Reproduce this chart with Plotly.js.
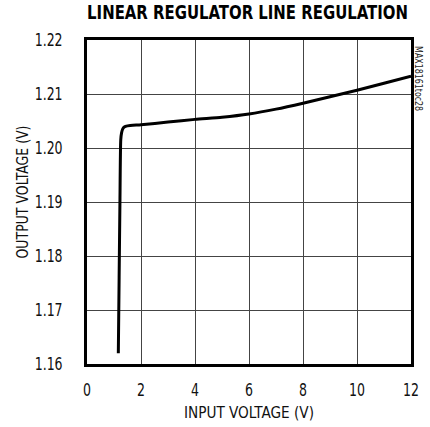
<!DOCTYPE html>
<html>
<head>
<meta charset="utf-8">
<script src="https://cdn.plot.ly/plotly-3.0.1.min.js"></script>
<style>html,body{margin:0;padding:0;background:#fff}#chart{width:430px;height:427px}</style>
</head>
<body>
<div id="chart"></div>
<script>
const inputVoltage = [1.16, 1.19, 1.22, 1.25, 1.28, 1.32, 1.38, 1.5, 2, 3, 4, 5, 6, 7, 8, 9, 10, 11, 12];
const outputVoltage = [1.162, 1.176, 1.190, 1.2015, 1.2028, 1.2035, 1.2039, 1.2041, 1.2043, 1.2048, 1.2053, 1.2057, 1.2063, 1.2072, 1.2083, 1.2095, 1.2107, 1.2120, 1.2133];
const xTicks = [0, 2, 4, 6, 8, 10, 12];
const yTicks = [1.16, 1.17, 1.18, 1.19, 1.20, 1.21, 1.22];
const yTickText = ['1.16', '1.17', '1.18', '1.19', '1.20', '1.21', '1.22'];

const FONT = '"DejaVu Sans Condensed", "Liberation Sans Narrow", sans-serif';

const trace = {
  x: inputVoltage, y: outputVoltage, mode: 'lines', type: 'scatter',
  line: {color: '#000', width: 3, shape: 'spline', smoothing: 0.6},
  hoverinfo: 'skip'
};

const layout = {
  width: 430, height: 427,
  margin: {l: 87, r: 19, t: 40, b: 63},
  paper_bgcolor: '#fff', plot_bgcolor: '#fff',
  showlegend: false,
  font: {family: FONT, size: 16, color: '#111'},
  title: {
    text: 'LINEAR REGULATOR LINE REGULATION',
    font: {family: FONT, size: 20, color: '#000', weight: 'bold'},
    xref: 'container', yref: 'container', x: 247.5/430, y: 1 - 12.5/427,
    xanchor: 'center', yanchor: 'middle'
  },
  xaxis: {
    range: [0, 12], tickvals: xTicks, ticktext: xTicks.map(String),
    showgrid: true, gridcolor: '#444', gridwidth: 1,
    showline: true, linecolor: '#000', linewidth: 3, mirror: true,
    ticks: '', ticklabelstandoff: 9, zeroline: false,
    tickfont: {family: FONT, size: 17, color: '#111'},
    title: {text: 'INPUT VOLTAGE (V)', font: {family: FONT, size: 16, color: '#111'}, standoff: 8}
  },
  yaxis: {
    range: [1.16, 1.22], tickvals: yTicks, ticktext: yTickText,
    showgrid: true, gridcolor: '#444', gridwidth: 1,
    showline: true, linecolor: '#000', linewidth: 3, mirror: true,
    ticks: '', ticklabelstandoff: 18, zeroline: false,
    tickfont: {family: FONT, size: 17, color: '#111'}
  },
  annotations: [
    {text: 'OUTPUT VOLTAGE (V)', xref: 'paper', yref: 'paper', x: -0.2, y: 0.53,
     xanchor: 'center', yanchor: 'middle', textangle: -90, showarrow: false,
     font: {family: FONT, size: 16, color: '#111'}},
    {text: 'MAX18161toc28', xref: 'paper', yref: 'paper', x: 1.003, y: 1,
     xanchor: 'left', yanchor: 'top', textangle: 90, showarrow: false,
     font: {family: FONT, size: 10, color: '#222'}}
  ]
};

function squeeze(el, target) {
  if (!el) return;
  el.setAttribute('textLength', target);
  el.setAttribute('lengthAdjust', 'spacingAndGlyphs');
}

function scaleX(el, target) {
  if (!el) return;
  const w = el.getComputedTextLength();
  const cx = parseFloat(el.getAttribute('x')) || 0;
  const s = target / w;
  el.setAttribute('transform', `translate(${cx},0) scale(${s},1) translate(${-cx},0)`);
}

Plotly.newPlot('chart', [trace], layout, {displayModeBar: false, staticPlot: true}).then(gd => {
  scaleX(gd.querySelector('.gtitle'), 321);
  scaleX(gd.querySelector('.xtitle'), 130);
  gd.querySelectorAll('.xtick text, .ytick text').forEach(t => {
    squeeze(t, t.getComputedTextLength() * 0.82);
  });
  const ann = gd.querySelectorAll('.annotation-text');
  if (ann[0]) squeeze(ann[0], 133);
  if (ann[1]) squeeze(ann[1], 65);
});
</script>
</body>
</html>
